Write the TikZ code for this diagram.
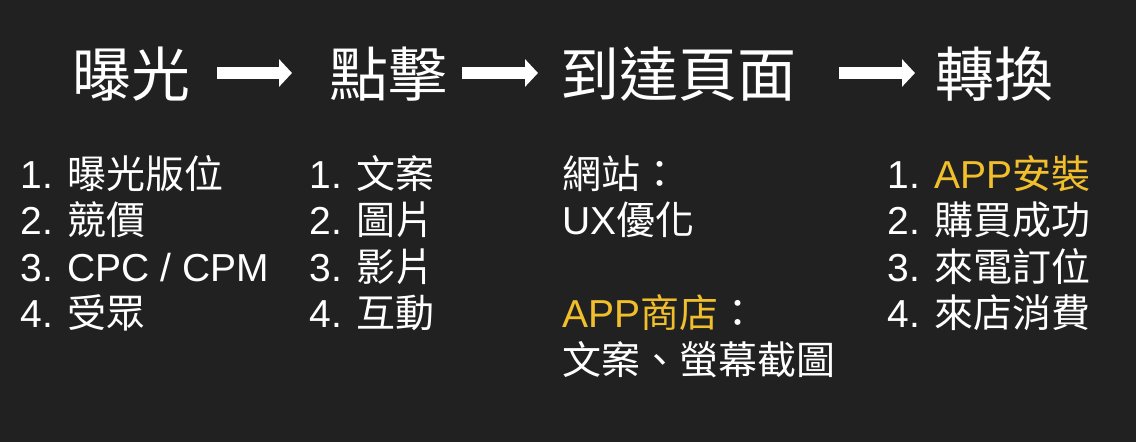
\documentclass[tikz,border=0pt]{standalone}
\usepackage{fontspec}
\setmainfont{Liberation Sans}
\newfontfamily\cjk{Noto Sans CJK TC}
\usepackage{tikz}
\usetikzlibrary{arrows.meta}
\definecolor{BgDark}{HTML}{212121}
\definecolor{Gold}{HTML}{F2BF2C}
\tikzset{
	title/.style={text=white, inner sep=0pt, font=\cjk\fontsize{29.5}{35}\selectfont},
	list/.style={text=white, inner sep=0pt, anchor=north west, align=left, font=\fontsize{19.5}{23.25}\selectfont},
	flow/.style={white, line width=6pt, -{Triangle[length=6.5pt, width=13.5pt]}}
}
\newcommand{\hl}[1]{\textcolor{Gold}{#1}}

\begin{document}
\begin{tikzpicture}[x=0.5pt, y=-0.5pt]

	\fill[BgDark] (0,0) rectangle (1136,442);
	\useasboundingbox (0,0) rectangle (1136,442);

	% funnel steps
	\node[title] (expo) at (131,74) {曝光};
	\node[title] (click) at (388,74) {點擊};
	\node[title] (land) at (678,74) {到達頁面};
	\node[title] (conv) at (994,74) {轉換};

	\coordinate (a1s) at (217,73);
	\coordinate (a1e) at (292,73);
	\coordinate (a2s) at (462,73);
	\coordinate (a2e) at (538,73);
	\coordinate (a3s) at (839,73);
	\coordinate (a3e) at (915,73);

	\draw[flow] (a1s) -- (a1e);
	\draw[flow] (a2s) -- (a2e);
	\draw[flow] (a3s) -- (a3e);

	% lists below each step
	\node[list] (expolist) at (20,155) {1. {\cjk 曝光版位}\\2. {\cjk 競價}\\3. CPC / CPM\\4. {\cjk 受眾}};
	\node[list] (clicklist) at (309,155) {1. {\cjk 文案}\\2. {\cjk 圖片}\\3. {\cjk 影片}\\4. {\cjk 互動}};
	\node[list] (landlist) at (562,155) {{\cjk 網站：}\\UX{\cjk 優化}\\[23.25pt]\hl{APP{\cjk 商店}}{\cjk ：}\\{\cjk 文案、螢幕截圖}};
	\node[list] (convlist) at (887,155) {1. \hl{APP{\cjk 安裝}}\\2. {\cjk 購買成功}\\3. {\cjk 來電訂位}\\4. {\cjk 來店消費}};

\end{tikzpicture}
\end{document}
